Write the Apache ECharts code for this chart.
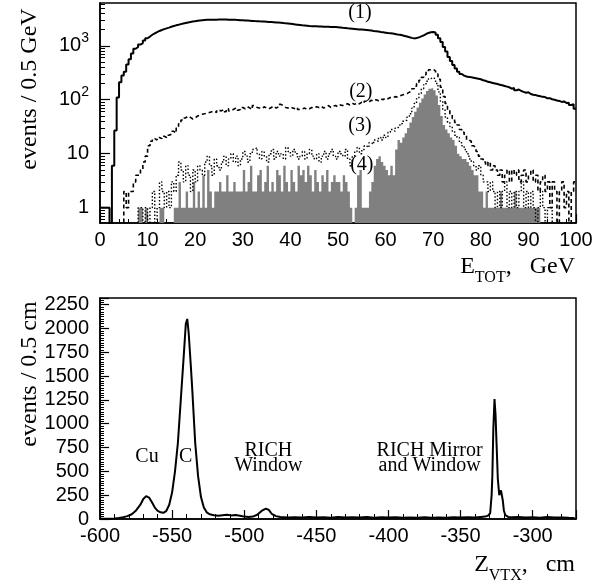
<!DOCTYPE html>
<html><head><meta charset="utf-8">
<script src="https://cdn.jsdelivr.net/npm/echarts@6/dist/echarts.min.js"></script>
<style>html,body{margin:0;padding:0;background:#fff}#c{width:607px;height:586px}</style>
</head><body><div id="c"></div>
<script>
// ---------- Top panel: E_TOT histograms (0.5 GeV bins, 0..100 GeV) ----------
const eBinWidth = 0.5, eStart = 0, eEnd = 100;
// (1) all events
const s1 = [
1,1,1,1,0,6,27,110,210,280,330,450,560,720,880,950,1050,1120,1250,1380,
1480,1600,1700,1790,1880,1960,2030,2100,2170,2250,2320,2390,2450,2520,2580,2640,2700,2760,2810,2860,
2900,2940,2970,3000,3020,3030,3040,3050,3050,3060,3070,3060,3070,3050,3040,3050,3020,3000,2980,2960,
2940,2930,2910,2890,2870,2860,2840,2830,2810,2790,2770,2750,2730,2710,2690,2660,2630,2600,2580,2550,
2520,2490,2460,2430,2400,2380,2360,2330,2310,2300,2290,2280,2270,2260,2250,2240,2230,2230,2220,2210,
2190,2160,2140,2110,2090,2070,2050,2030,2010,2000,1980,1960,1940,1910,1880,1860,1830,1800,1780,1750,
1720,1700,1680,1650,1620,1600,1560,1520,1480,1440,1400,1370,1390,1430,1490,1560,1650,1730,1780,1800,
1760,1600,1380,1180,950,780,620,520,440,380,330,300,280,270,265,260,255,250,245,240,
230,225,215,210,205,200,195,190,185,180,175,170,160,165,150,155,145,140,135,138,
128,124,122,118,116,113,112,106,107,102,100,97,95,91,93,87,88,80,83,68];
// (2)
const s2 = [
0,0,0,0,0,0,0,0,0,0,2,1,2,2,3,4,4,5,7,9,
14,17,19,18,20,19,21,20,22,23,26,24,30,36,42,46,50,47,44,46,
50,52,54,55,56,58,60,62,58,64,62,66,60,68,62,66,70,64,66,72,
68,74,70,66,78,72,70,68,74,70,68,72,76,70,74,82,78,72,70,74,
70,68,72,66,68,70,66,68,72,70,74,72,76,70,74,78,72,76,78,74,
80,78,82,84,80,86,82,88,84,90,86,94,90,98,94,100,96,104,100,108,
104,110,108,114,112,118,122,126,130,138,145,160,178,200,230,260,290,330,360,370,
340,300,240,170,115,85,65,55,45,38,34,28,25,22,18,17,14,13,11,9,
8,7,6,7,5,6,5,4,5,3,4,5,3,5,4,5,3,4,5,3,
4,5,3,4,2,3,4,2,3,1,3,2,0,2,3,1,2,0,2,3];
// (3)
const s3 = [
0,0,0,0,0,0,0,0,0,0,0,0,0,0,0,0,1,1,0,1,
0,1,2,0,1,3,2,1,2,1,3,2,4,7,5,3,6,4,2,5,
3,6,5,4,7,9,6,4,8,6,5,7,9,6,8,10,7,9,6,8,
11,9,7,10,12,13,10,8,11,9,7,10,12,8,11,9,10,8,13,11,
9,12,10,8,9,11,8,10,12,9,8,10,7,9,11,8,10,12,9,8,
11,10,9,12,8,6,9,11,13,10,12,14,13,16,15,18,17,20,18,22,
20,25,28,26,30,32,36,40,42,48,55,70,85,105,130,160,190,220,245,260,
240,200,140,95,65,48,38,32,26,22,20,16,14,12,10,8,7,6,5,6,
4,3,3,2,3,2,1,2,1,2,3,1,2,1,2,1,2,3,1,2,
1,2,1,0,1,2,1,0,1,1,0,0,0,0,0,0,0,0,0,0];
// (4) filled
const s4 = [
0,0,0,0,0,0,0,0,0,0,0,0,0,0,0,0,1,1,0,1,
0,0,0,0,0,1,1,0,0,0,0,1,1,3,1,1,2,1,1,3,
1,2,1,4,1,5,2,1,2,2,3,2,2,4,2,2,3,2,2,2,
5,2,3,6,2,2,4,5,2,3,6,2,3,2,5,4,2,6,3,2,
5,3,2,6,4,5,3,6,4,2,5,3,2,4,3,5,2,3,4,3,
3,2,4,3,2,1,0,1,4,5,1,1,1,2,3,6,8,9,7,6,
5,4,6,4,12,18,16,20,24,30,38,48,60,72,88,105,125,145,160,165,
150,120,80,50,34,28,24,20,18,14,10,9,8,8,7,6,5,4,4,2,
2,1,2,1,1,1,1,1,2,1,1,1,1,1,2,1,1,1,1,1,
1,1,1,1,1,0,0,0,0,0,0,0,0,0,0,0,0,0,0,0];
const logTickValues = [1,10,100,1000];
const logMinorValues = [0.6,0.7,0.8,0.9,2,3,4,5,6,7,8,9,20,30,40,50,60,70,80,90,200,300,400,500,600,700,800,900,2000,3000,4000,5000,6000];
const topLabels = [
  {text:'(1)', e:54.6, v:4045},
  {text:'(2)', e:54.8, v:138},
  {text:'(3)', e:54.6, v:32.6},
  {text:'(4)', e:55.0, v:6.35}];

// ---------- Bottom panel: Z_VTX ----------
const zPos = [-600,-595,-590,-587,-584,-581,-578,-575,-572,-570,-568,-566,-564,-562,-560,-558,-556,-554,-552,-550,
-548,-546,-544,-542,-540.5,-539.5,-538.5,-537,-536,-534,-532,-530,-528,-526,-524,-521,-518,-515,-512,-509,
-506,-503,-500,-497,-494,-491,-488,-485,-483,-481,-478,-475,-470,-465,-460,-455,-450,-445,-440,-435,
-430,-425,-420,-415,-410,-405,-400,-395,-390,-385,-380,-375,-370,-365,-360,-355,-350,-345,-340,-336,
-333,-331,-329.5,-328.5,-328,-327.3,-326.5,-325.8,-325,-324.2,-323.2,-322,-321.5,-320.8,-320,-319,-317,-314,-310,-305,
-300,-295,-290,-285,-280,-275,-271];
const zCounts = [2,3,5,10,18,30,50,90,150,210,240,225,175,120,85,70,65,85,150,280,
500,800,1250,1700,2050,2100,1950,1600,1350,800,450,230,120,70,50,40,35,40,45,38,
42,35,25,20,25,45,85,110,95,55,30,20,15,18,15,20,15,18,12,20,
15,18,15,20,14,18,15,18,14,15,12,18,14,16,14,18,15,18,16,22,
25,35,60,250,450,950,1260,1100,760,420,250,300,320,200,90,40,22,18,20,15,
18,14,20,15,16,12,10];
const zTicks = [-600,-550,-500,-450,-400,-350,-300];
const zCountTicks = [0,250,500,750,1000,1250,1500,1750,2000,2250];
const bottomLabels = [
  {text:'Cu', z:-567.4, v:654},
  {text:'C', z:-540.6, v:654},
  {text:'RICH\nWindow', z:-483.3, v:641},
  {text:'RICH Mirror\nand Window', z:-371.5, v:641}];

// ---------- build ----------
const SERIF = '"Liberation Serif","Times New Roman",serif';
const SANS = '"Liberation Sans",Arial,Helvetica,sans-serif';
function stepData(arr){
  const d = arr.map((v,i)=>[eStart+i*eBinWidth, v>0?v:0.1]);
  d.push([eEnd, arr[arr.length-1]>0?arr[arr.length-1]:0.1]);
  return d;
}

const chart = echarts.init(document.getElementById('c'), null, {renderer:'canvas'});
const axisLineStyle = {show:true, lineStyle:{color:'#000', width:1.5}};
const FS = 20;
const labelStyle = {color:'#000', fontFamily:SANS, fontSize:FS};
const option = {
  animation:false,
  backgroundColor:'#fff',
  grid:[
    {left:100, top:3, width:476, height:220, show:true, borderColor:'#000', borderWidth:1.5, containLabel:false},
    {left:100, top:298, width:476, height:221, show:true, borderColor:'#000', borderWidth:1.5, containLabel:false}
  ],
  xAxis:[
    {type:'value', gridIndex:0, min:eStart, max:eEnd, interval:10,
     axisLine:axisLineStyle, splitLine:{show:false},
     axisTick:{show:true, inside:true, length:9, lineStyle:{color:'#000', width:1.2}},
     minorTick:{show:true, splitNumber:5, length:4, lineStyle:{color:'#000', width:1}},
     axisLabel:Object.assign({margin:7}, labelStyle)},
    {type:'value', gridIndex:1, min:-600, max:-270, interval:50,
     axisLine:axisLineStyle, splitLine:{show:false},
     axisTick:{show:true, inside:true, length:9, lineStyle:{color:'#000', width:1.2}},
     minorTick:{show:true, splitNumber:5, length:5, lineStyle:{color:'#000', width:1}},
     axisLabel:Object.assign({margin:7, customValues:zTicks, formatter:(v)=>String(v)}, labelStyle)}
  ],
  yAxis:[
    {type:'log', gridIndex:0, min:0.52, max:6200, logBase:10,
     axisLine:axisLineStyle, splitLine:{show:false},
     axisTick:{show:true, inside:true, length:10, customValues:logTickValues, lineStyle:{color:'#000', width:1.2}},
     axisLabel:Object.assign({margin:11, customValues:logTickValues,
       formatter:function(v){
         if (Math.abs(v-1)<1e-6) return '{m|1}';
         if (Math.abs(v-10)<1e-6) return '{m|10}';
         if (Math.abs(v-100)<1e-4) return '{m|10}{s|2}';
         if (Math.abs(v-1000)<1e-3) return '{m|10}{s|3}';
         return '';
       },
       rich:{m:{fontFamily:SANS, fontSize:FS, color:'#000', verticalAlign:'middle'},
             s:{fontFamily:SANS, fontSize:14, color:'#000', verticalAlign:'middle', padding:[0,0,16,0]}}
     }, labelStyle)},
    {type:'log', gridIndex:0, min:0.52, max:6200, logBase:10, position:'left', offset:0,
     axisLine:{show:false}, splitLine:{show:false}, axisLabel:{show:false},
     axisTick:{show:true, inside:true, length:5, customValues:logMinorValues, lineStyle:{color:'#000', width:1}}},
    {type:'value', gridIndex:1, min:0, max:2320, interval:250,
     axisLine:axisLineStyle, splitLine:{show:false},
     axisTick:{show:true, inside:true, length:9, lineStyle:{color:'#000', width:1.2}},
     minorTick:{show:true, splitNumber:10, length:4, lineStyle:{color:'#000', width:1}},
     axisLabel:Object.assign({margin:11, customValues:zCountTicks, formatter:(v)=>String(v)}, labelStyle)}
  ],
  series:[
    {type:'line', name:'(4)', xAxisIndex:0, yAxisIndex:0, data:stepData(s4), step:'end', showSymbol:false,
     clip:true, lineStyle:{opacity:0, width:0},
     areaStyle:{color:'#808080', opacity:1, origin:'start'}, z:1},
    {type:'line', name:'(3)', xAxisIndex:0, yAxisIndex:0, data:stepData(s3), step:'end', showSymbol:false,
     clip:true, lineStyle:{color:'#000', width:1.4, type:[1.5,2]}, z:2},
    {type:'line', name:'(2)', xAxisIndex:0, yAxisIndex:0, data:stepData(s2), step:'end', showSymbol:false,
     clip:true, lineStyle:{color:'#000', width:1.6, type:[4,3]}, z:3},
    {type:'line', name:'(1)', xAxisIndex:0, yAxisIndex:0, data:stepData(s1), step:'end', showSymbol:false,
     clip:true, lineStyle:{color:'#000', width:2}, z:4},
    {type:'line', name:'zvtx', xAxisIndex:1, yAxisIndex:2, data:zPos.map((z,i)=>[z, zCounts[i]]),
     showSymbol:false, clip:true, lineStyle:{color:'#000', width:2}, z:4}
  ]
};
chart.setOption(option);

const graphics = [];
graphics.push({type:'text', x:30, y:89, rotation:Math.PI/2,
  style:{text:'events / 0.5 GeV', fontFamily:SERIF, fontSize:24, fill:'#000', align:'center', verticalAlign:'middle'}});
graphics.push({type:'text', x:30, y:374, rotation:Math.PI/2,
  style:{text:'events / 0.5 cm', fontFamily:SERIF, fontSize:24, fill:'#000', align:'center', verticalAlign:'middle'}});
const titleRich = {m:{fontFamily:SERIF, fontSize:24, fill:'#000', verticalAlign:'middle'},
                   s:{fontFamily:SERIF, fontSize:16, fill:'#000', verticalAlign:'middle', padding:[22,0,0,0]}};
graphics.push({type:'text', x:575, y:267,
  style:{text:'{m|E}{s|TOT}{m|,   GeV}', align:'right', verticalAlign:'middle', rich:titleRich}});
graphics.push({type:'text', x:575, y:565,
  style:{text:'{m|Z}{s|VTX}{m|,   cm}', align:'right', verticalAlign:'middle', rich:titleRich}});
topLabels.forEach(a=>{
  const p = chart.convertToPixel({xAxisIndex:0, yAxisIndex:0}, [a.e, a.v]);
  graphics.push({type:'text', x:p[0], y:p[1], z:10,
    style:{text:a.text, fontFamily:SERIF, fontSize:20, fill:'#000', align:'center', verticalAlign:'middle'}});
});
bottomLabels.forEach(a=>{
  const p = chart.convertToPixel({xAxisIndex:1, yAxisIndex:2}, [a.z, a.v]);
  graphics.push({type:'text', x:p[0], y:p[1], z:10,
    style:{text:a.text, fontFamily:SERIF, fontSize:20, lineHeight:15, fill:'#000', align:'center', verticalAlign:'middle'}});
});
chart.setOption({graphic:graphics});
</script></body></html>
